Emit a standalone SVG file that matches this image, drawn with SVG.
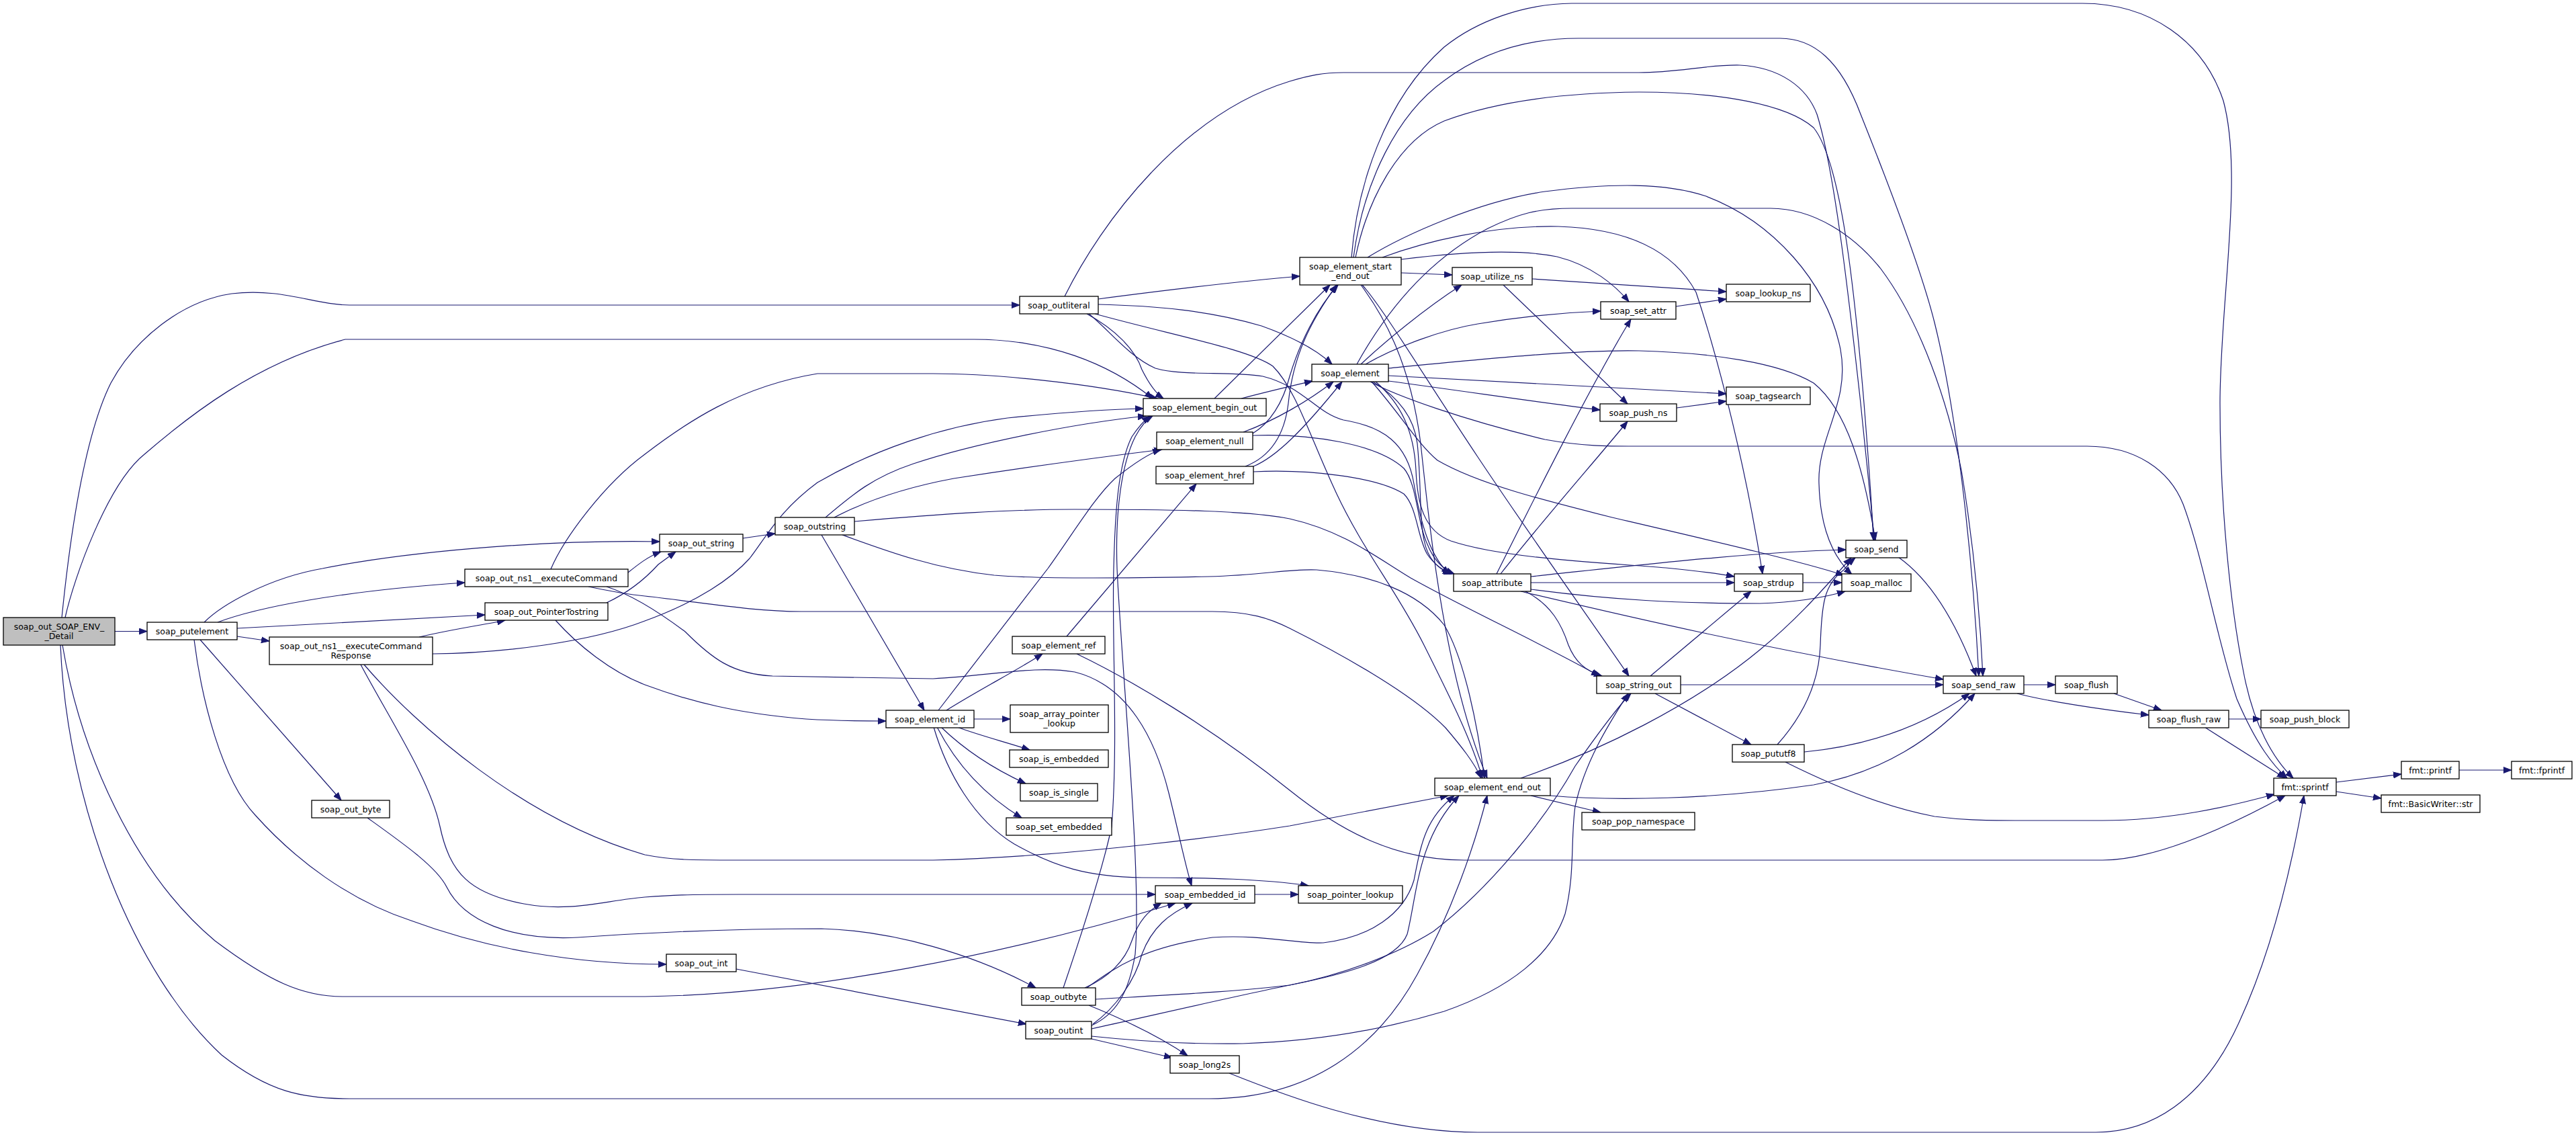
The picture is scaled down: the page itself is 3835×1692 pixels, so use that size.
<svg xmlns="http://www.w3.org/2000/svg" width="3835" height="1692" viewBox="0 0 3835 1692">
<style>
.n rect{fill:#fff;stroke:#000;stroke-width:1.3}
.n text{font-family:"DejaVu Sans",sans-serif;font-size:12.5px;fill:#000;text-anchor:middle}
.e path{fill:none;stroke:#191970;stroke-width:1.2;marker-end:url(#a)}
</style>
<defs>
<marker id="a" markerWidth="13" markerHeight="10" refX="12" refY="5" orient="auto" markerUnits="userSpaceOnUse"><path d="M0,0.5 L12,5 L0,9.5 z" fill="#191970" stroke="#191970" stroke-width="1"/></marker>
</defs>
<rect width="3835" height="1692" fill="#fff"/>
<g id="edges" class="e">
<path d="M171,939.5 L219,939.5"/>
<path d="M92,919 C100,840 120,660 165,570 C200,505 270,448 345,437 C420,428 470,454 520,454 L1518,454"/>
<path d="M97,919 C110,860 160,720 215,676 C280,620 380,540 514,505 L1450,505 C1560,505 1650,540 1716,593"/>
<path d="M93,960 C120,1120 200,1300 320,1400 C400,1460 450,1483 510,1483 L960,1483 C1200,1480 1500,1420 1750,1344"/>
<path d="M90,960 C100,1200 200,1450 330,1570 C400,1625 450,1635 520,1635 L1800,1635 C1950,1635 2050,1560 2110,1450 C2160,1360 2195,1260 2214,1184"/>
<path d="M304,926 C330,900 400,860 480,846 C600,822 800,803 982,806"/>
<path d="M324,926 C380,905 500,880 692,867"/>
<path d="M353,935 L722,915"/>
<path d="M353,947 L401,954"/>
<path d="M298,952 L508,1191"/>
<path d="M289,952 C300,1040 330,1160 380,1213 C440,1280 520,1340 612,1370 C720,1410 850,1435 992,1435"/>
<path d="M935,852 C950,840 965,828 984,821"/>
<path d="M903,897 C935,882 960,862 980,840 L1006,821"/>
<path d="M820,847 C840,800 900,720 960,676 C1020,630 1100,575 1217,556 L1389,556 C1480,556 1620,570 1723,593"/>
<path d="M876,873 C900,878 930,884 960,887 C1050,897 1120,910 1193,910 L1805,910 C1860,910 1890,920 1920,935 C1990,970 2100,1030 2152,1083 C2175,1110 2195,1135 2205,1158"/>
<path d="M903,873 C940,885 980,910 1020,940 C1060,980 1090,1003 1150,1006 L1389,1010 C1480,1005 1540,990 1600,1000 C1680,1020 1720,1100 1740,1180 C1755,1240 1765,1290 1774,1318"/>
<path d="M624,948 C680,935 720,930 752,923"/>
<path d="M644,973 C750,972 880,955 960,924 C1040,895 1090,860 1116,831 C1140,800 1160,760 1217,718 C1300,670 1400,635 1500,622 C1580,614 1650,609 1702,608"/>
<path d="M542,989 C620,1080 780,1220 960,1272 C1000,1280 1030,1280 1100,1280 L1389,1280 C1600,1275 1850,1240 1920,1229 C2010,1212 2100,1195 2156,1184"/>
<path d="M537,989 C580,1070 640,1160 655,1230 C670,1300 700,1330 780,1345 C850,1358 900,1340 960,1335 C1000,1332 1020,1331 1100,1331 L1720,1331"/>
<path d="M547,1217 C600,1255 650,1290 665,1320 C690,1370 760,1400 860,1395 C960,1388 1100,1382 1223,1382 C1330,1385 1450,1420 1542,1470"/>
<path d="M1096,1442 L1528,1524"/>
<path d="M1585,441 C1640,330 1760,170 1920,121 C1950,112 1970,108 2000,108 L2440,108 C2500,108 2540,96 2590,97 C2650,100 2690,130 2705,170 C2730,250 2750,420 2770,600 C2780,700 2787,760 2790,804"/>
<path d="M1635,445 C1750,430 1850,418 1935,411"/>
<path d="M1635,453 C1720,455 1800,462 1878,485 C1920,500 1960,520 1983,542"/>
<path d="M1618,467 C1660,490 1690,520 1700,550 C1710,570 1720,585 1732,593"/>
<path d="M1630,467 C1750,500 1860,520 1895,545 C1930,580 1950,650 1990,735 C2030,820 2080,880 2120,960 C2160,1040 2190,1100 2207,1158"/>
<path d="M1621,467 C1650,490 1680,530 1720,548 C1760,560 1830,552 1880,560 C1940,575 1960,615 2000,625 C2060,635 2095,660 2105,720 C2115,780 2130,830 2158,854"/>
<path d="M1808,593 L1980,424"/>
<path d="M1848,593 C1890,582 1920,575 1954,567"/>
<path d="M1851,643 C1900,625 1950,595 1985,568"/>
<path d="M1865,645 C1890,630 1910,600 1920,560 C1935,510 1960,460 1992,424"/>
<path d="M1865,648 C1950,645 2050,660 2090,697 C2110,720 2110,780 2125,810 C2135,835 2150,848 2165,854"/>
<path d="M1866,694 C1900,680 1940,640 1998,568"/>
<path d="M1854,694 C1890,680 1912,650 1918,600 C1925,530 1950,480 1990,424"/>
<path d="M1866,702 C1950,698 2050,710 2090,735 C2110,755 2110,800 2125,825 C2135,840 2150,850 2162,854"/>
<path d="M1229,770 C1270,735 1300,710 1360,690 C1450,660 1600,630 1706,619"/>
<path d="M1242,770 C1290,745 1350,725 1420,712 C1530,695 1640,680 1730,669"/>
<path d="M1223,796 L1376,1057"/>
<path d="M1254,796 C1320,820 1390,846 1480,856 C1550,862 1700,860 1800,858 C1880,856 1920,846 1960,848 C2040,855 2110,880 2150,930 C2180,980 2200,1080 2210,1158"/>
<path d="M1272,776 C1400,765 1500,758 1600,758 C1750,758 1860,760 1920,772 C2000,790 2050,830 2100,860 C2180,905 2300,960 2381,1006"/>
<path d="M1106,801 L1154,794"/>
<path d="M827,923 C860,960 910,1000 960,1019 C1030,1045 1100,1062 1200,1070 C1250,1073 1290,1073 1319,1073"/>
<path d="M1397,1057 L1560,846 C1600,790 1630,740 1660,712 C1690,688 1710,675 1728,669"/>
<path d="M1409,1057 C1460,1025 1510,1000 1552,973"/>
<path d="M1450,1070 L1504,1070"/>
<path d="M1425,1082 C1460,1095 1500,1105 1533,1116"/>
<path d="M1401,1082 C1430,1110 1470,1140 1527,1166"/>
<path d="M1395,1082 C1420,1130 1460,1180 1521,1217"/>
<path d="M1390,1082 C1410,1150 1450,1220 1510,1256 C1570,1290 1620,1305 1700,1306 C1800,1306 1880,1308 1948,1318"/>
<path d="M1588,947 L1781,720"/>
<path d="M1603,973 C1680,1010 1800,1080 1920,1176 C2000,1240 2080,1280 2180,1280 L3130,1280 C3200,1280 3300,1240 3402,1184"/>
<path d="M1583,1470 C1600,1420 1640,1300 1655,1230 C1665,1100 1655,950 1658,846 C1660,760 1665,690 1685,650 C1695,635 1703,626 1712,619"/>
<path d="M1625,1526 C1660,1510 1680,1480 1690,1420 C1700,1300 1670,1000 1663,846 C1660,760 1670,690 1690,650 C1698,635 1706,625 1716,619"/>
<path d="M1615,1470 C1650,1455 1675,1430 1685,1400 C1695,1370 1710,1355 1729,1344"/>
<path d="M1627,1524 C1660,1500 1690,1460 1700,1420 C1715,1380 1740,1360 1775,1344"/>
<path d="M1618,1470 C1660,1440 1700,1410 1805,1395 C1880,1390 1930,1405 1970,1403 C2040,1395 2090,1360 2105,1310 C2115,1260 2120,1220 2165,1184"/>
<path d="M1625,1531 C1720,1510 1850,1480 1920,1466 C2000,1450 2080,1430 2095,1390 C2110,1330 2110,1250 2172,1184"/>
<path d="M1631,1487 C1750,1480 1850,1475 1920,1466 C2000,1450 2080,1420 2134,1386 C2220,1320 2300,1220 2345,1140 C2380,1090 2410,1050 2428,1032"/>
<path d="M1625,1542 C1700,1550 1780,1554 1850,1553 C1950,1550 2050,1535 2150,1505 C2250,1470 2310,1420 2330,1360 C2345,1300 2338,1250 2345,1200 C2360,1130 2400,1070 2424,1032"/>
<path d="M1621,1496 C1680,1520 1730,1545 1768,1571"/>
<path d="M1625,1546 L1745,1574"/>
<path d="M1830,1597 C1900,1625 2050,1685 2200,1685 L3120,1685 C3200,1685 3280,1640 3334,1520 C3380,1420 3410,1300 3430,1184"/>
<path d="M2086,406 L2162,409"/>
<path d="M2086,386 C2150,378 2250,368 2318,382 C2370,395 2405,425 2425,449"/>
<path d="M2012,383 C2020,280 2060,150 2150,70 C2200,30 2270,6 2340,5 L3100,5 C3200,5 3280,60 3310,150 C3340,260 3305,450 3305,600 C3305,750 3320,900 3340,1000 C3355,1080 3385,1130 3414,1158"/>
<path d="M2040,568 C2080,590 2180,625 2300,654 C2360,665 2400,664 2450,664 L3107,664 C3180,664 3230,700 3250,750 C3280,830 3300,950 3330,1040 C3360,1110 3385,1140 3405,1158"/>
<path d="M2015,383 C2030,270 2080,170 2150,120 C2210,75 2280,57 2350,57 L2650,57 C2700,57 2740,90 2770,170 C2810,270 2860,400 2880,480 C2910,600 2935,800 2946,1006"/>
<path d="M2020,542 C2060,470 2120,390 2215,340 C2260,318 2290,310 2340,310 L2636,310 C2700,310 2760,350 2800,400 C2860,480 2900,600 2920,700 C2940,820 2948,920 2952,1006"/>
<path d="M2018,383 C2035,300 2080,210 2150,180 C2230,150 2330,138 2440,137 C2560,137 2660,155 2700,190 C2740,240 2760,420 2775,600 C2783,700 2787,760 2789,804"/>
<path d="M2067,548 C2200,535 2350,520 2440,522 C2550,525 2650,540 2700,570 C2750,610 2775,700 2792,804"/>
<path d="M2036,383 C2090,350 2200,300 2300,285 C2400,272 2480,272 2540,292 C2640,330 2720,420 2740,520 C2755,600 2705,650 2708,720 C2710,790 2730,830 2757,855"/>
<path d="M2058,383 C2120,360 2220,335 2320,337 C2420,340 2490,370 2525,435 C2560,540 2600,700 2624,854"/>
<path d="M2026,424 C2060,470 2100,540 2115,660 C2130,800 2150,1000 2214,1158"/>
<path d="M2028,424 C2060,460 2120,560 2200,680 C2280,800 2380,940 2425,1006"/>
<path d="M2281,415 L2570,434"/>
<path d="M2238,424 L2423,601"/>
<path d="M2495,456 L2570,445"/>
<path d="M2026,542 C2060,510 2120,460 2176,424"/>
<path d="M2033,542 C2080,515 2150,490 2200,482 C2270,470 2330,465 2383,463"/>
<path d="M2067,559 L2570,586"/>
<path d="M2067,567 C2200,585 2300,600 2382,610"/>
<path d="M2044,568 C2080,590 2105,620 2110,660 C2118,740 2110,800 2130,830 C2140,845 2150,850 2160,854"/>
<path d="M2042,568 C2080,610 2110,660 2140,685 C2200,720 2300,745 2400,770 C2550,805 2680,835 2745,856"/>
<path d="M2048,568 C2085,600 2105,640 2108,700 C2110,750 2120,790 2160,805 C2240,832 2400,838 2480,845 C2520,849 2555,853 2582,858"/>
<path d="M2279,867 L2582,867"/>
<path d="M2279,858 C2450,840 2600,822 2748,818"/>
<path d="M2279,877 C2400,893 2500,898 2620,898 C2680,896 2720,888 2747,880"/>
<path d="M2264,880 C2400,912 2600,960 2893,1011"/>
<path d="M2271,880 C2310,900 2325,930 2335,960 C2345,985 2360,998 2385,1006"/>
<path d="M2228,854 C2280,750 2370,570 2428,475"/>
<path d="M2234,854 C2300,770 2380,680 2423,627"/>
<path d="M2457,1006 L2607,880"/>
<path d="M2501,1019 L2893,1019"/>
<path d="M2464,1032 L2607,1108"/>
<path d="M2686,1119 C2760,1112 2850,1090 2932,1032"/>
<path d="M2658,1134 C2720,1165 2800,1200 2880,1215 C2920,1220 2950,1221 3000,1221 L3130,1221 C3230,1221 3320,1200 3386,1182"/>
<path d="M2646,1108 C2680,1070 2708,1020 2710,960 C2712,900 2715,870 2745,848 C2752,840 2756,835 2762,830"/>
<path d="M2264,1158 C2380,1118 2520,1050 2620,967 C2680,918 2720,870 2756,830"/>
<path d="M2308,1184 C2400,1192 2550,1190 2700,1168 C2800,1150 2880,1100 2940,1032"/>
<path d="M2279,1184 L2383,1209"/>
<path d="M2826,829 C2870,860 2910,920 2942,1006"/>
<path d="M2683,867 L2742,867"/>
<path d="M3013,1019 L3060,1019"/>
<path d="M3003,1032 C3040,1042 3120,1055 3199,1064"/>
<path d="M3147,1032 L3218,1057"/>
<path d="M3318,1070 L3366,1070"/>
<path d="M3282,1082 L3402,1158"/>
<path d="M3478,1164 L3575,1152"/>
<path d="M3478,1178 L3545,1188"/>
<path d="M3661,1146 L3739,1146"/>
<path d="M1868,1331 L1933,1331"/>
<path d="M2496,607 L2570,597"/>
</g>
<g id="n_detail" class="n"><rect x="5" y="919" width="166" height="41" style="fill:#bfbfbf"/><text x="88" y="936.5">soap_out_SOAP_ENV_</text><text x="88" y="950.5">_Detail</text></g>
<g id="n_putelement" class="n"><rect x="219" y="926" width="134" height="26"/><text x="286" y="943.5">soap_putelement</text></g>
<g id="n_execcmd" class="n"><rect x="692" y="847" width="243" height="26"/><text x="813.5" y="864.5">soap_out_ns1__executeCommand</text></g>
<g id="n_ptrtostr" class="n"><rect x="722" y="897" width="183" height="26"/><text x="813.5" y="914.5">soap_out_PointerTostring</text></g>
<g id="n_execresp" class="n"><rect x="401" y="948" width="243" height="41"/><text x="522.5" y="965.5">soap_out_ns1__executeCommand</text><text x="522.5" y="979.5">Response</text></g>
<g id="n_out_byte" class="n"><rect x="464" y="1191" width="116" height="26"/><text x="522" y="1208.5">soap_out_byte</text></g>
<g id="n_out_int" class="n"><rect x="992" y="1420" width="104" height="26"/><text x="1044" y="1437.5">soap_out_int</text></g>
<g id="n_outliteral" class="n"><rect x="1518" y="441" width="117" height="26"/><text x="1576.5" y="458.5">soap_outliteral</text></g>
<g id="n_begin_out" class="n"><rect x="1702" y="593" width="183" height="26"/><text x="1793.5" y="610.5">soap_element_begin_out</text></g>
<g id="n_null" class="n"><rect x="1722" y="643" width="143" height="26"/><text x="1793.5" y="660.5">soap_element_null</text></g>
<g id="n_href" class="n"><rect x="1721" y="694" width="145" height="26"/><text x="1793.5" y="711.5">soap_element_href</text></g>
<g id="n_outstring" class="n"><rect x="1154" y="770" width="118" height="26"/><text x="1213" y="787.5">soap_outstring</text></g>
<g id="n_out_string" class="n"><rect x="982" y="795" width="124" height="26"/><text x="1044" y="812.5">soap_out_string</text></g>
<g id="n_ref" class="n"><rect x="1507" y="947" width="138" height="26"/><text x="1576" y="964.5">soap_element_ref</text></g>
<g id="n_id" class="n"><rect x="1319" y="1057" width="131" height="26"/><text x="1384.5" y="1074.5">soap_element_id</text></g>
<g id="n_apl" class="n"><rect x="1504" y="1049" width="146" height="41"/><text x="1577" y="1066.5">soap_array_pointer</text><text x="1577" y="1080.5">_lookup</text></g>
<g id="n_is_emb" class="n"><rect x="1503" y="1116" width="147" height="26"/><text x="1576.5" y="1133.5">soap_is_embedded</text></g>
<g id="n_is_single" class="n"><rect x="1519" y="1166" width="115" height="26"/><text x="1576.5" y="1183.5">soap_is_single</text></g>
<g id="n_set_emb" class="n"><rect x="1498" y="1217" width="157" height="26"/><text x="1576.5" y="1234.5">soap_set_embedded</text></g>
<g id="n_emb_id" class="n"><rect x="1720" y="1318" width="148" height="26"/><text x="1794" y="1335.5">soap_embedded_id</text></g>
<g id="n_outbyte" class="n"><rect x="1521" y="1470" width="110" height="26"/><text x="1576" y="1487.5">soap_outbyte</text></g>
<g id="n_outint" class="n"><rect x="1527" y="1520" width="98" height="26"/><text x="1576" y="1537.5">soap_outint</text></g>
<g id="n_long2s" class="n"><rect x="1742" y="1571" width="103" height="26"/><text x="1793.5" y="1588.5">soap_long2s</text></g>
<g id="n_seo" class="n"><rect x="1935" y="383" width="151" height="41"/><text x="2010.5" y="400.5">soap_element_start</text><text x="2010.5" y="414.5">_end_out</text></g>
<g id="n_utilize" class="n"><rect x="2162" y="398" width="119" height="26"/><text x="2221.5" y="415.5">soap_utilize_ns</text></g>
<g id="n_lookup_ns" class="n"><rect x="2570" y="423" width="125" height="26"/><text x="2632.5" y="440.5">soap_lookup_ns</text></g>
<g id="n_set_attr" class="n"><rect x="2383" y="449" width="112" height="26"/><text x="2439" y="466.5">soap_set_attr</text></g>
<g id="n_element" class="n"><rect x="1953" y="542" width="114" height="26"/><text x="2010" y="559.5">soap_element</text></g>
<g id="n_tagsearch" class="n"><rect x="2570" y="576" width="125" height="26"/><text x="2632.5" y="593.5">soap_tagsearch</text></g>
<g id="n_push_ns" class="n"><rect x="2382" y="601" width="114" height="26"/><text x="2439" y="618.5">soap_push_ns</text></g>
<g id="n_send" class="n"><rect x="2748" y="804" width="91" height="26"/><text x="2793.5" y="821.5">soap_send</text></g>
<g id="n_attribute" class="n"><rect x="2164" y="854" width="115" height="26"/><text x="2221.5" y="871.5">soap_attribute</text></g>
<g id="n_strdup" class="n"><rect x="2582" y="854" width="102" height="26"/><text x="2633" y="871.5">soap_strdup</text></g>
<g id="n_malloc" class="n"><rect x="2742" y="854" width="103" height="26"/><text x="2793.5" y="871.5">soap_malloc</text></g>
<g id="n_string_out" class="n"><rect x="2377" y="1006" width="125" height="26"/><text x="2439.5" y="1023.5">soap_string_out</text></g>
<g id="n_pututf8" class="n"><rect x="2579" y="1108" width="107" height="26"/><text x="2632.5" y="1125.5">soap_pututf8</text></g>
<g id="n_end_out" class="n"><rect x="2136" y="1158" width="172" height="26"/><text x="2222" y="1175.5">soap_element_end_out</text></g>
<g id="n_pop_ns" class="n"><rect x="2355" y="1209" width="168" height="26"/><text x="2439" y="1226.5">soap_pop_namespace</text></g>
<g id="n_ptr_lookup" class="n"><rect x="1933" y="1318" width="155" height="26"/><text x="2010.5" y="1335.5">soap_pointer_lookup</text></g>
<g id="n_send_raw" class="n"><rect x="2893" y="1006" width="120" height="26"/><text x="2953" y="1023.5">soap_send_raw</text></g>
<g id="n_flush" class="n"><rect x="3060" y="1006" width="92" height="26"/><text x="3106" y="1023.5">soap_flush</text></g>
<g id="n_flush_raw" class="n"><rect x="3199" y="1057" width="119" height="26"/><text x="3258.5" y="1074.5">soap_flush_raw</text></g>
<g id="n_push_block" class="n"><rect x="3366" y="1057" width="131" height="26"/><text x="3431.5" y="1074.5">soap_push_block</text></g>
<g id="n_sprintf" class="n"><rect x="3385" y="1158" width="93" height="26"/><text x="3431.5" y="1175.5">fmt::sprintf</text></g>
<g id="n_printf" class="n"><rect x="3575" y="1133" width="86" height="26"/><text x="3618" y="1150.5">fmt::printf</text></g>
<g id="n_fprintf" class="n"><rect x="3739" y="1133" width="90" height="26"/><text x="3784" y="1150.5">fmt::fprintf</text></g>
<g id="n_bwstr" class="n"><rect x="3545" y="1183" width="147" height="26"/><text x="3618.5" y="1200.5">fmt::BasicWriter::str</text></g>
</svg>
